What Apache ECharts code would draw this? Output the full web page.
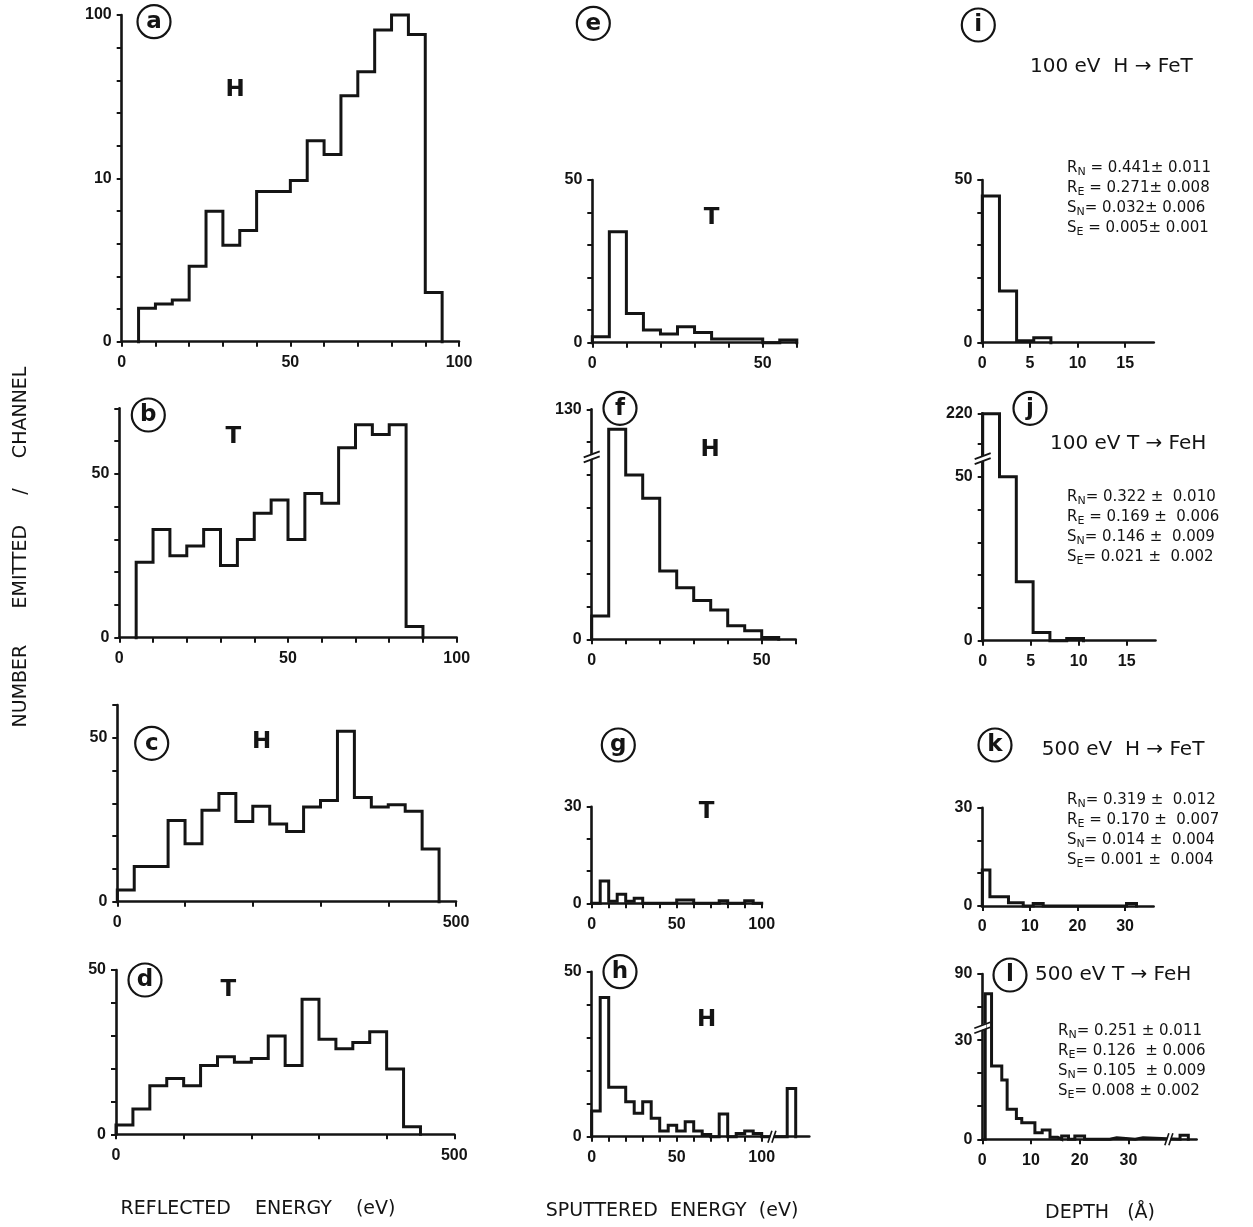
<!DOCTYPE html>
<html><head><meta charset="utf-8">
<script src="https://cdn.jsdelivr.net/npm/echarts@6/dist/echarts.min.js"></script>
<style>html,body{margin:0;padding:0;background:#fff}#c{width:1253px;height:1227px}</style>
</head><body><div id="c"></div>
<script>
// ---------------- DATA ----------------
// Reflected energy spectra (eV)
const aEdges = [5,10,15,20,25,30,35,40,45,50,55,60,65,70,75,80,85,90,95];
const aCounts = [1.6,1.7,1.8,2.9,6.3,3.9,4.8,8.3,8.3,9.7,17,14,32,45,81,100,76,2.0];
const bEdges = [5,10,15,20,25,30,35,40,45,50,55,60,65,70,75,80,85,90];
const bCounts = [23,33,25,28,33,22,30,38,42,30,44,41,58,65,62,65,3.4];
const cEdges = [0,25,50,75,100,125,150,175,200,225,250,275,300,325,350,375,400,425,450,475];
const cCounts = [3.6,10.7,10.7,24.8,17.7,27.9,33,24.5,29.1,23.7,21.4,28.9,30.9,52,31.8,28.9,29.6,27.6,16.1];
const dEdges = [0,25,50,75,100,125,150,175,200,225,250,275,300,325,350,375,400,425,450];
const dCounts = [2.8,7.7,14.8,17.0,14.8,20.9,23.6,21.9,23.1,29.9,20.9,41.1,28.9,26.0,27.9,31.2,19.9,2.3];
// Sputtered energy spectra (eV)
const eEdges = [0,5,10,15,20,25,30,35,40,45,50,55,60];
const eCounts = [1.8,34.1,9.0,3.9,2.7,4.9,3.1,1.1,1.1,1.1,0,0.8];
const fEdges = [0,5,10,15,20,25,30,35,40,45,50,55];
const fCounts = [13.2,118.7,92.9,79.7,38.6,29.2,21.9,16.6,7.7,4.9,1.0];
const gEdges = [0,5,10,15,20,25,30,35,40,45,50,55,60,65,70,75,80,85,90,95,100];
const gCounts = [0,6.9,0.6,2.8,0.6,1.6,0,0,0,0,1.0,1.0,0,0,0,0.8,0,0,0.8,0];
const hEdges = [0,5,10,15,20,25,30,35,40,45,50,55,60,65,70,75,80,85,90,95,100,115,120];
const hCounts = [7.8,42.2,15,15,10.6,7.1,10.6,5.6,1.7,3.5,1.7,4.5,1.7,0.7,0,6.9,0,1.0,1.7,1.0,0,14.6];
// Depth distributions (Å)
const iEdges = [0,1.8,3.6,5.4,7.2];
const iCounts = [45.1,15.9,0.6,1.5];
const jEdges = [0,1.75,3.5,5.25,7.0,8.75,10.5];
const jCounts = [218,50,18,2.5,0,0.7];
const kEdges = [0,1.6,5.5,8.6,10.7,12.8,30.3,32.4];
const kCounts = [11,2.8,1.0,0,0.8,0,0.8];
const lEdges = [0.6,1.9,4.0,5.1,7.0,8.1,10.8,12.3,13.9,15.5,16.3,17.7,19.0,21.0,26.2,27.6,31.4,33.0,40.6,42.3];
const lCounts = [72,22.2,17.9,9.1,6.3,5.0,2.0,2.8,0.6,0,1.0,0,1.0,0,0.5,0,0.5,0,1.2];

// tick labels
const refl100Labels = [0,50,100];
const refl500Labels = [0,500];
const sput60Labels = [0,50];
const sput100Labels = [0,50,100];
const depth18Labels = [0,5,10,15];
const depth36Labels = [0,10,20,30];
const aYLabelValues = [1,10,100];   const aYLabelText = ['0','10','100'];
const y50Labels = [0,50];
const y30Labels = [0,30];
const fYLabels = [0,130];
const jYLabels = [0,50,220];
const lYLabels = [0,30,90];

// species, titles, statistics
const species = ['H','T','H','T','T','H','T','H'];
const titles = ['100 eV  H \u2192 FeT','100 eV T \u2192 FeH','500 eV  H \u2192 FeT','500 eV T \u2192 FeH'];
const statsI = [['R','N',' = 0.441\u00b1 0.011'],['R','E',' = 0.271\u00b1 0.008'],['S','N','= 0.032\u00b1 0.006'],['S','E',' = 0.005\u00b1 0.001']];
const statsJ = [['R','N','= 0.322 \u00b1  0.010'],['R','E',' = 0.169 \u00b1  0.006'],['S','N','= 0.146 \u00b1  0.009'],['S','E','= 0.021 \u00b1  0.002']];
const statsK = [['R','N','= 0.319 \u00b1  0.012'],['R','E',' = 0.170 \u00b1  0.007'],['S','N','= 0.014 \u00b1  0.004'],['S','E','= 0.001 \u00b1  0.004']];
const statsL = [['R','N','= 0.251 \u00b1 0.011'],['R','E','= 0.126  \u00b1 0.006'],['S','N','= 0.105  \u00b1 0.009'],['S','E','= 0.008 \u00b1 0.002']];

// ---------------- axis mappings ----------------
const linMap = v => v;
const logMap = v => Math.log10(Math.max(v, 1));
const brkJ = v => v <= 60 ? v : 60 + (v - 60) * (9.4 / 160);
const brkL = v => v <= 30 ? v : 30 + (v - 30) / 3;

function seq(max, step){ const r=[]; for(let k=0;k*step<=max+1e-9;k++) r.push(+(k*step).toFixed(6)); return r; }

// ---------------- LAYOUT ----------------
const layout = [
 {edges:aEdges,counts:aCounts,map:logMap,box:[121.7,15,337.3,326.7],xMax:100,xTicks:seq(100,10),xLabels:refl100Labels,yMax:2,yTicks:seq(2,0.2),yLab:aYLabelValues,yText:aYLabelText},
 {edges:bEdges,counts:bCounts,map:linMap,box:[119.3,408.3,337.4,229.4],xMax:100,xTicks:seq(100,10),xLabels:refl100Labels,yMax:70,yTicks:seq(70,10),yLab:y50Labels},
 {edges:cEdges,counts:cCounts,map:linMap,box:[117.3,705,338.7,196.7],xMax:500,xTicks:seq(500,100),xLabels:refl500Labels,yMax:60,yTicks:seq(60,10),yLab:y50Labels},
 {edges:dEdges,counts:dCounts,map:linMap,box:[116,970,338.3,164.3],xMax:500,xTicks:seq(500,100),xLabels:refl500Labels,yMax:50,yTicks:seq(50,10),yLab:y50Labels},
 {edges:eEdges,counts:eCounts,map:linMap,box:[592.3,180,204.5,162.7],xMax:60,xTicks:seq(60,10),xLabels:sput60Labels,yMax:50,yTicks:seq(50,10),yLab:y50Labels},
 {edges:fEdges,counts:fCounts,map:linMap,box:[591.7,409.3,204,230],xMax:60,xTicks:seq(60,10),xLabels:sput60Labels,yMax:130,yTicks:seq(130,130/7),yLab:fYLabels,yBreak:104},
 {edges:gEdges,counts:gCounts,map:linMap,box:[591.7,806.7,170,96.6],xMax:100,xTicks:seq(100,10),xLabels:sput100Labels,yMax:30,yTicks:seq(30,10),yLab:y30Labels},
 {edges:hEdges,counts:hCounts,map:linMap,box:[591.7,971.7,217.6,165],xMax:128,xTicks:seq(100,10),xLabels:sput100Labels,yMax:50,yTicks:seq(50,10),yLab:y50Labels,xBreak:106},
 {edges:iEdges,counts:iCounts,map:linMap,box:[982.3,180,171.5,162.7],xMax:18,xTicks:seq(15,5),xLabels:depth18Labels,yMax:50,yTicks:seq(50,10),yLab:y50Labels},
 {edges:jEdges,counts:jCounts,map:brkJ,box:[982.7,413.3,172.8,227.4],xMax:18,xTicks:seq(15,5),xLabels:depth18Labels,yMax:brkJ(220),yTicks:seq(60,10).concat([brkJ(220)]),yLab:jYLabels,yBreak:56},
 {edges:kEdges,counts:kCounts,map:linMap,box:[982.3,807.7,171.3,98.3],xMax:36,xTicks:seq(30,10),xLabels:depth36Labels,yMax:30,yTicks:seq(30,10),yLab:y30Labels},
 {edges:lEdges,counts:lCounts,map:brkL,box:[982.3,974,214.3,165.3],xMax:44,xTicks:seq(30,10),xLabels:depth36Labels,yMax:brkL(90),yTicks:seq(50,10),yLab:lYLabels,yBreak:34.2,xBreak:38.3}
];

const INK = '#141414';
const FONT = '"Liberation Sans", Arial, sans-serif';
const FONT2 = '"DejaVu Sans", "Liberation Sans", sans-serif';

function stepPath(edges, counts, m){
  const pts = [[edges[0], m(0)]];
  counts.forEach((c,i)=>{ pts.push([edges[i], m(c)]); pts.push([edges[i+1], m(c)]); });
  pts.push([edges[edges.length-1], m(0)]);
  return pts;
}

const grids=[], xAxes=[], yAxes=[], series=[];
layout.forEach((p,i)=>{
  const [l,t,w,h] = p.box;
  grids.push({left:l, top:t, width:w, height:h, containLabel:false, outerBoundsMode:'none'});
  const yPos = p.yLab.map(v => p.map(v));
  const yTxt = p.yText || p.yLab.map(String);
  xAxes.push({type:'value', gridIndex:i, min:0, max:p.xMax,
    axisLine:{show:true,onZero:false,lineStyle:{color:INK,width:2.6}},
    axisTick:{show:true,inside:false,length:5,customValues:p.xTicks,lineStyle:{color:INK,width:2}},
    axisLabel:{show:true,customValues:p.xLabels,margin:13,color:INK,fontSize:16,fontWeight:'bold',fontFamily:FONT,
      formatter:v=>String(Math.round(v))},
    splitLine:{show:false}});
  yAxes.push({type:'value', gridIndex:i, min:0, max:p.yMax,
    axisLine:{show:true,onZero:false,lineStyle:{color:INK,width:2.6}},
    axisTick:{show:true,inside:false,length:5,customValues:p.yTicks,lineStyle:{color:INK,width:2}},
    axisLabel:{show:true,customValues:yPos,margin:10,color:INK,fontSize:16,fontWeight:'bold',fontFamily:FONT,
      formatter:v=>{ let bi=0,bd=1e9; yPos.forEach((q,k)=>{const d=Math.abs(q-v); if(d<bd){bd=d;bi=k;}}); return yTxt[bi]; }},
    splitLine:{show:false}});
  series.push({type:'line', xAxisIndex:i, yAxisIndex:i, data:stepPath(p.edges,p.counts,p.map),
    symbol:'none', showSymbol:false, clip:false, silent:true, animation:false,
    lineStyle:{color:INK,width:3,join:'miter',cap:'square'}, z:3});
});

const chart = echarts.init(document.getElementById('c'), null, {renderer:'canvas'});
chart.setOption({backgroundColor:'#fff', animation:false, grid:grids, xAxis:xAxes, yAxis:yAxes, series:series});

// ---------------- annotations ----------------
const g = [];
function txt(x,y,text,size,opts){
  opts = opts||{};
  return {type:'text', x:x, y:y, z:50, rotation:opts.rot||0, style:{text:text, fill:INK, fontSize:size, fontFamily:opts.font||FONT,
    fontWeight:opts.bold?'bold':'normal', align:opts.align||'center', verticalAlign:'middle',
    textAlign:opts.align||'center', textVerticalAlign:'middle'}};
}
const circles = [['a',154,21.7],['b',148.3,415],['c',151.7,743.3],['d',145,980],['e',593.3,23.3],['f',620,408.3],
  ['g',618.3,745],['h',620,971.7],['i',978.3,25],['j',1030,408.3],['k',995,745],['l',1010,975]];
circles.forEach(c=>{
  g.push({type:'circle', z:50, shape:{cx:c[1],cy:c[2],r:16.5}, style:{fill:'#fff',stroke:INK,lineWidth:2.2}});
  g.push(txt(c[1],c[2]+0.5,c[0],23,{font:FONT2,bold:true}));
});
const spPos = [[235,90],[233.3,436.7],[261.7,741.7],[228.3,990],[711.7,218.3],[710,450],[706.7,811.7],[706.7,1020]];
spPos.forEach((s,k)=> g.push(txt(s[0],s[1],species[k],23,{bold:true,font:FONT2})));
const tPos = [[1030,66.7],[1050,443.3],[1041.7,750],[1035,975]];
tPos.forEach((s,k)=> g.push(txt(s[0],s[1],titles[k],20,{align:'left',font:FONT2})));
function stats(x,y,rows){
  const text = rows.map(r=>'{b|'+r[0]+'}{s|'+r[1]+'}{b|'+r[2]+'}').join('\n');
  return {type:'text', x:x, y:y-10, z:50, style:{text:text, align:'left', verticalAlign:'top', textAlign:'left', textVerticalAlign:'top',
    rich:{b:{fontSize:15,fontFamily:FONT2,lineHeight:20,fill:INK,color:INK,verticalAlign:'middle'},
          s:{fontSize:11,fontFamily:FONT2,lineHeight:11,fill:INK,color:INK,verticalAlign:'bottom'}}}};
}
g.push(stats(1067,168,statsI));
g.push(stats(1067,497,statsJ));
g.push(stats(1067,800,statsK));
g.push(stats(1058,1031,statsL));
g.push(txt(258,1209,'REFLECTED    ENERGY    (eV)',19,{font:FONT2}));
g.push(txt(672,1211,'SPUTTERED  ENERGY  (eV)',19,{font:FONT2}));
g.push(txt(1100,1213,'DEPTH   (\u00c5)',19,{font:FONT2}));
g.push(txt(21,547,'NUMBER      EMITTED     /     CHANNEL',19,{rot:Math.PI/2,font:FONT2}));

// axis break marks, positioned through the axes
layout.forEach((p,i)=>{
  if (p.yBreak !== undefined){
    const pt = chart.convertToPixel({gridIndex:i}, [0, p.yBreak]);
    const cx = pt[0], cy = pt[1];
    g.push({type:'polygon', z:60, shape:{points:[[cx-4,cy],[cx+4,cy-3],[cx+4,cy+2],[cx-4,cy+5]]}, style:{fill:'#fff'}});
    g.push({type:'line', z:61, shape:{x1:cx-8,y1:cy+2,x2:cx+8,y2:cy-4}, style:{stroke:INK,lineWidth:1.8}});
    g.push({type:'line', z:61, shape:{x1:cx-8,y1:cy+7,x2:cx+8,y2:cy+1}, style:{stroke:INK,lineWidth:1.8}});
  }
  if (p.xBreak !== undefined){
    const pt = chart.convertToPixel({gridIndex:i}, [p.xBreak, 0]);
    const cx = pt[0], cy = pt[1];
    g.push({type:'polygon', z:60, shape:{points:[[cx-3,cy+4],[cx,cy-4],[cx+3,cy-4],[cx,cy+4]]}, style:{fill:'#fff'}});
    g.push({type:'line', z:61, shape:{x1:cx-4,y1:cy+6,x2:cx,y2:cy-6}, style:{stroke:INK,lineWidth:1.6}});
    g.push({type:'line', z:61, shape:{x1:cx,y1:cy+6,x2:cx+4,y2:cy-6}, style:{stroke:INK,lineWidth:1.6}});
  }
});
chart.setOption({graphic:{elements:g}});
</script>
</body></html>
